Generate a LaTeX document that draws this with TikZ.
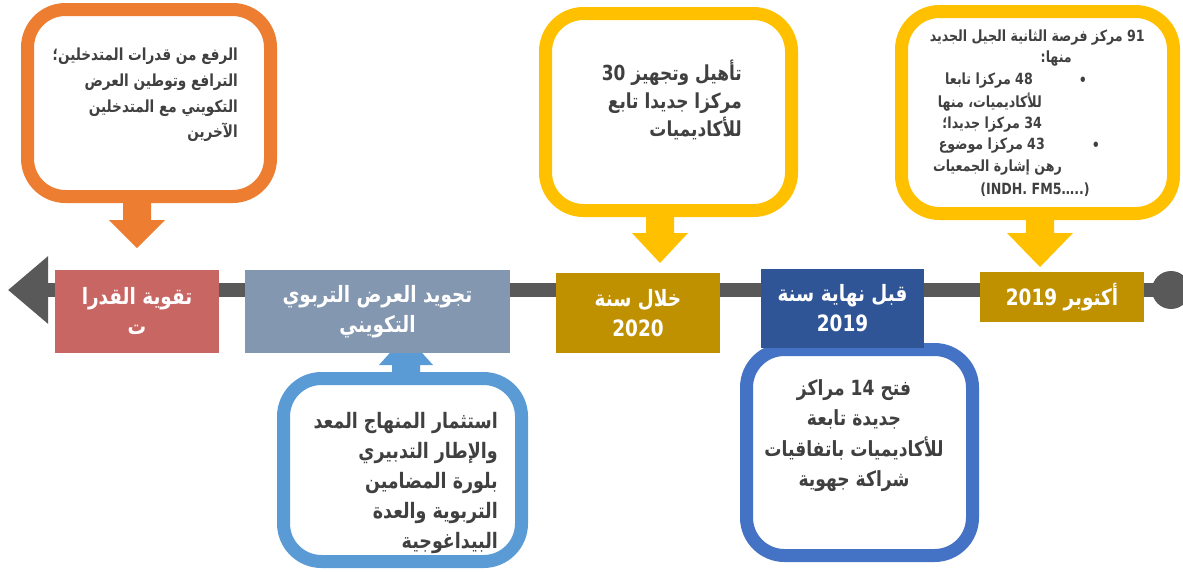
\documentclass[tikz,border=0pt]{standalone}
\usepackage{fontspec}
\newfontfamily\arabicfont[Script=Arabic,FakeStretch=0.82]{DejaVu Sans}
\TeXXeTstate=1
\usetikzlibrary{arrows.meta}
\definecolor{bar-gray}{HTML}{595959}
\definecolor{note-gray}{HTML}{404040}
\definecolor{ms-red}{HTML}{C86663}
\definecolor{ms-slate}{HTML}{8497B0}
\definecolor{ms-gold}{HTML}{BF9000}
\definecolor{ms-navy}{HTML}{2F5597}
\definecolor{co-orange}{HTML}{ED7D31}
\definecolor{co-yellow}{HTML}{FFC000}
\definecolor{co-sky}{HTML}{5B9BD5}
\definecolor{co-blue}{HTML}{4472C4}
\newcommand{\rl}[1]{\beginR#1\endR}
\newcommand{\lr}[1]{\beginL#1\endL}
% block arrow below or above a callout
\newcommand{\tikzcalloutarrow}[6][]{%
\fill[#1] (#2-14,#3) -- (#2+14,#3) -- (#2+14,#4) -- (#2+#6,#4) -- (#2,#5) -- (#2-#6,#4) -- (#2-14,#4) -- cycle;
}
\begin{document}
\begin{tikzpicture}[x=1pt, y=-1pt,
  callout/.style={draw=#1, fill=white, line width=13pt, rounded corners=38pt, inner sep=0pt},
  milestone/.style={fill=#1, text=white, align=center, inner sep=0pt,
    font=\arabicfont\bfseries\fontsize{22.5}{30}\selectfont},
  note/.style 2 args={text=note-gray, inner sep=0pt, font=\arabicfont\bfseries\fontsize{#1}{#2}\selectfont}]
\useasboundingbox (0,0) rectangle (1183,571);
% time axis
\coordinate (past) at (8,290);
\node[circle, fill=bar-gray, minimum size=38, inner sep=0pt] (origin) at (1171,290) {};
\draw[bar-gray, line width=14pt, -{Triangle[length=40pt,width=65pt]}] (origin.center) -- (past);
% arrows of the callouts
\tikzcalloutarrow[co-orange]{137}{190}{220}{248}{28}
\tikzcalloutarrow[co-yellow]{660}{205}{233}{263}{28}
\tikzcalloutarrow[co-yellow]{1040}{205}{233}{267}{33}
\tikzcalloutarrow[co-sky]{406}{380}{365}{335}{27}
% callouts
\node[callout=co-orange, minimum width=243, minimum height=187] (capacity-note) at (149,103) {};
\node[callout=co-yellow, minimum width=246, minimum height=197] (year2020-note) at (668.5,112) {};
\node[callout=co-yellow, minimum width=272, minimum height=202] (october-note) at (1037.5,112.5) {};
\node[callout=co-sky, minimum width=238, minimum height=183] (quality-note) at (402.5,470) {};
\node[callout=co-blue, minimum width=226, minimum height=206] (end2019-note) at (859.5,452.5) {};
% milestones
\node[milestone=ms-red, minimum width=164, minimum height=83] (capacity) at (137,311.5)
  {\rl{تقوية القدرا}\\\rl{ت}};
\node[milestone=ms-slate, minimum width=265, minimum height=83] (quality) at (377.5,311.5)
  {\rl{تجويد العرض التربوي}\\\rl{التكويني}};
\node[milestone=ms-gold, minimum width=164, minimum height=80] (year2020) at (638,313)
  {\rl{خلال سنة}\\2020};
\node[milestone=ms-navy, minimum width=163, minimum height=79] (end2019) at (842.5,308.5)
  {\rl{قبل نهاية سنة}\\2019};
\node[milestone=ms-gold, minimum width=164, minimum height=50] (october) at (1062,297)
  {\rl{أكتوبر \lr{2019}}};
% texts of the callouts
\node[note={16.6}{25.7}, align=right, anchor=north east] (capacity-text) at (238,48)
  {\rl{الرفع من قدرات المتدخلين؛}\\\rl{الترافع وتوطين العرض}\\\rl{التكويني مع المتدخلين}\\\rl{الآخرين}};
\node[note={20.7}{28}, align=right, anchor=north east] (year2020-text) at (742,60)
  {\rl{تأهيل وتجهيز \lr{30}}\\\rl{مركزا جديدا تابع}\\\rl{للأكاديميات}};
\node[note={21.3}{30}, align=right, anchor=north east] (quality-text) at (498,412)
  {\rl{استثمار المنهاج المعد}\\\rl{والإطار التدبيري}\\\rl{بلورة المضامين}\\\rl{التربوية والعدة}\\\rl{البيداغوجية}};
\node[note={20.9}{30.5}, align=center, anchor=north] (end2019-text) at (854,379)
  {\rl{فتح \lr{14} مراكز}\\\rl{جديدة تابعة}\\\rl{للأكاديميات باتفاقيات}\\\rl{شراكة جهوية}};
\node[note={15.4}{20}, anchor=east] (october-l1) at (1145,38) {\rl{\lr{91} مركز فرصة الثانية الجيل الجديد}};
\node[note={15.4}{20}, anchor=east] (october-l2) at (1072,59) {\rl{منها:}};
\node[note={15.4}{20}] (october-b1) at (1083,81) {•};
\node[note={15.4}{20}, anchor=east] (october-l3) at (1033,81) {\rl{\lr{48} مركزا تابعا}};
\node[note={15.4}{20}, anchor=east] (october-l4) at (1042,102) {\rl{للأكاديميات، منها}};
\node[note={15.4}{20}, anchor=east] (october-l5) at (1042,125) {\rl{\lr{34} مركزا جديدا؛}};
\node[note={15.4}{20}] (october-b2) at (1096,146) {•};
\node[note={15.4}{20}, anchor=east] (october-l6) at (1045,146) {\rl{\lr{43} مركزا موضوع}};
\node[note={15.4}{20}, anchor=east] (october-l7) at (1062,168) {\rl{رهن إشارة الجمعيات}};
\node[note={15.4}{20}] (october-l8) at (1035,190) {(INDH. FM5…..)};
\end{tikzpicture}
\end{document}
